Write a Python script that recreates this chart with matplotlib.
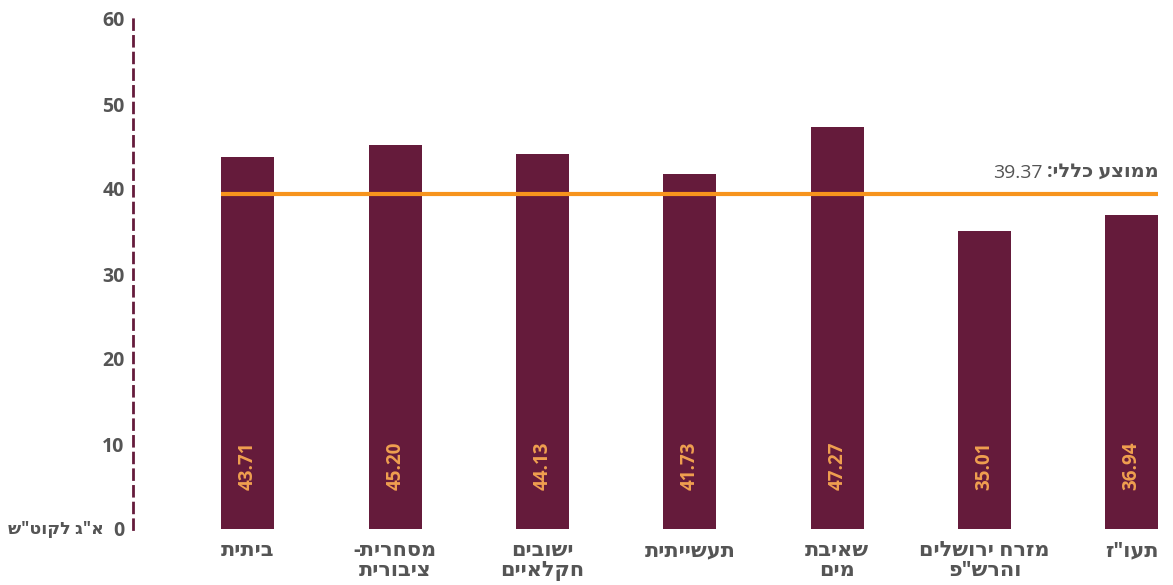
import matplotlib
matplotlib.use("Agg")
import matplotlib.pyplot as plt

# Data (Hebrew strings stored in visual left-to-right order for matplotlib)
categories = ["תיתיב", "-תירחסמ\nתירוביצ", "םיבושי\nםייאלקח", "תיתיישעת",
              "תביאש\nםימ", "םילשורי חרזמ\nפ\"שרהו", "ז\"ועת"]
values = [43.71, 45.20, 44.13, 41.73, 47.27, 35.01, 36.94]
average = 39.37
avg_label = ":יללכ עצוממ"
y_label = "ש\"טוקל ג\"א"
yticks = [0, 10, 20, 30, 40, 50, 60]

BAR = "#651b3b"
ORANGE = "#f7941d"
VAL = "#f0a050"
GRAY = "#555555"

plt.rcParams['font.family'] = ['Open Sans', 'DejaVu Sans']

fig = plt.figure(figsize=(11.73, 5.85), dpi=100)
ax = fig.add_axes([133/1173, 56/585, 1 - 133/1173, (529-19)/585])

n = len(values)
x = list(range(n))
bw = 0.36
ax.bar(x, values, width=bw, color=BAR, zorder=2)
ax.set_xlim(-0.78, 6.28)
ax.set_ylim(0, 60)

ax.hlines(average, -bw/2, n - 1 + bw/2, color=ORANGE, lw=3, zorder=3)

for xi, v in zip(x, values):
    ax.text(xi, 7.4, f"{v:.2f}", rotation=90, ha='center', va='center',
            color=VAL, fontsize=13.5, fontweight='bold', zorder=4)

t = ax.annotate(avg_label, xy=(n - 1 + bw/2, average), xytext=(0, 9),
                textcoords='offset points', ha='right', va='bottom',
                fontsize=14, fontweight='bold', color=GRAY)
ax.annotate(f"{average:.2f}", xy=(0, 0), xycoords=t, xytext=(-3, 0),
            textcoords='offset points', ha='right', va='bottom',
            fontsize=14, color=GRAY)

for s in ['top', 'right', 'bottom']:
    ax.spines[s].set_visible(False)
ax.spines['left'].set_color(BAR)
ax.spines['left'].set_linewidth(2)
ax.spines['left'].set_linestyle((0, (3.5, 2.5)))

ax.set_yticks(yticks)
ax.set_yticklabels([str(v) for v in yticks], fontsize=14, fontweight='bold', color=GRAY)
ax.tick_params(axis='y', length=0, pad=6)
ax.set_xticks(x)
ax.set_xticklabels(categories, fontsize=15, fontweight='bold', color=GRAY,
                   linespacing=0.95)
ax.tick_params(axis='x', length=0, pad=8)

ax.annotate(y_label, xy=(0, 0), xycoords=('axes fraction', 'data'),
            xytext=(-21, 0), textcoords='offset points', ha='right', va='center',
            fontsize=12.5, fontweight='bold', color=GRAY)

fig.savefig("out.png", dpi=100)
